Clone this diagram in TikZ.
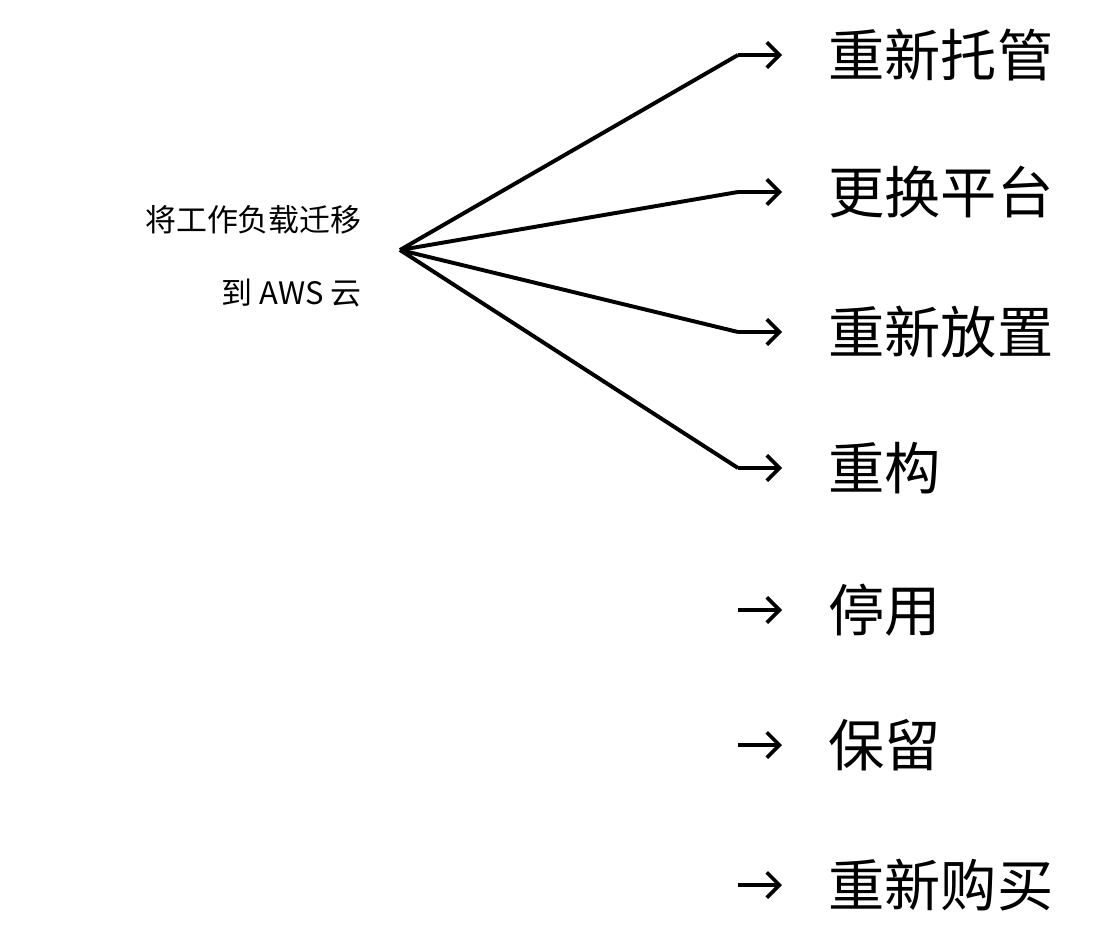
\documentclass[tikz,border=0pt]{standalone}
\usepackage{fontspec}
\setmainfont{Noto Sans CJK SC}
\usetikzlibrary{arrows.meta}
\tikzset{
  item/.style={anchor=west, inner sep=0pt, font=\fontsize{40}{44}\selectfont},
  tip/.style={-{Straight Barb[length=9pt,width=18pt]}, line width=2.6pt},
  branch/.style={line width=2.8pt}
}
\begin{document}
\begin{tikzpicture}[x=0.025cm,y=-0.025cm]
\useasboundingbox (0,0) rectangle (1120,934);
\node[anchor=east, align=right, inner sep=0pt, font=\fontsize{22}{52}\selectfont] (src) at (362,256) {将工作负载迁移\\到 AWS 云};
\coordinate (hub) at (400,250);
\foreach \name/\y/\txt in {r1/55/重新托管, r2/192/更换平台, r3/332/重新放置, r4/468/重构, r5/610/停用, r6/745/保留, r7/885/重新购买}{
  \coordinate (\name a) at (738,\y);
  \coordinate (\name b) at (782,\y);
  \draw[tip] (\name a) -- (\name b);
  \node[item] (\name) at (828,\y) {\txt};
}
\foreach \name in {r1,r2,r3,r4}
  \draw[branch] (hub) -- (\name a);
\end{tikzpicture}
\end{document}
